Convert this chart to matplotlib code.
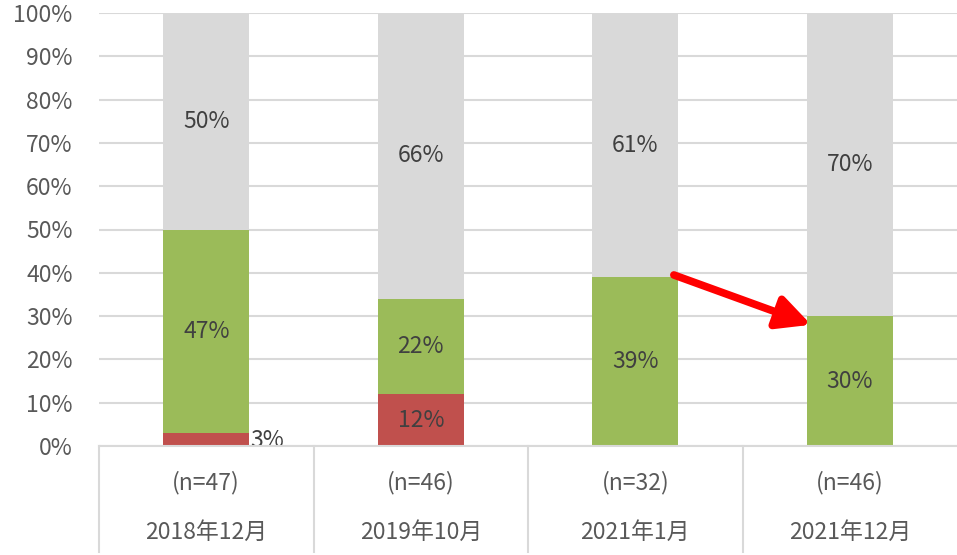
import matplotlib
matplotlib.use('Agg')
import matplotlib.pyplot as plt
import numpy as np

plt.rcParams['font.family'] = ['Noto Sans CJK JP', 'DejaVu Sans']

# data (percent)
periods = ['2018年12月', '2019年10月', '2021年1月', '2021年12月']
n_labels = ['(n=47)', '(n=46)', '(n=32)', '(n=46)']
red_vals = [3, 12, 0, 0]
green_vals = [47, 22, 39, 30]
gray_vals = [50, 66, 61, 70]

red_col = '#c0504d'
green_col = '#9bbb59'
gray_col = '#d9d9d9'
text_col = '#404040'
tick_col = '#595959'
fs = 16.5

W, H = 957, 555
fig = plt.figure(figsize=(W / 100, H / 100), dpi=100)
ax_left, ax_right, ax_top, ax_bottom = 99, 957, 13, 446
ax = fig.add_axes([ax_left / W, 1 - ax_bottom / H, (ax_right - ax_left) / W, (ax_bottom - ax_top) / H])

index = np.arange(len(periods))
width = 0.4
red = np.array(red_vals)
green = np.array(green_vals)
gray = np.array(gray_vals)

ax.bar(index, red, width, color=red_col, zorder=2)
ax.bar(index, green, width, bottom=red, color=green_col, zorder=2)
ax.bar(index, gray, width, bottom=red + green, color=gray_col, zorder=2)

# labels inside segments
for i in index:
    if red[i] >= 5:
        ax.text(i, red[i] / 2, '%d%%' % red[i], ha='center', va='center', fontsize=fs, color=text_col, zorder=3)
    elif red[i] > 0:
        ax.text(i + width / 2 + 0.005, red[i] / 2 - 0.3, '%d%%' % red[i], ha='left', va='center', fontsize=fs, color=text_col, zorder=3)
    ax.text(i, red[i] + green[i] / 2, '%d%%' % green[i], ha='center', va='center', fontsize=fs, color=text_col, zorder=3)
    ax.text(i, red[i] + green[i] + gray[i] / 2, '%d%%' % gray[i], ha='center', va='center', fontsize=fs, color=text_col, zorder=3)

ax.set_xlim(-0.5, len(periods) - 0.5)
ax.set_ylim(0, 100)
ax.set_yticks(np.arange(0, 101, 10))
ax.set_yticklabels(['%d%%' % v for v in range(0, 101, 10)], fontsize=fs, color=tick_col)
ax.set_xticks([])
ax.yaxis.grid(True, color=gray_col, linewidth=1.5, zorder=0)
ax.tick_params(axis='y', length=0, pad=19)
for s in ax.spines.values():
    s.set_visible(False)
ax.set_axisbelow(True)

# arrow from top of green bar (2021年1月) to top of green bar (2021年12月)
y0 = red[2] + green[2]
y1 = red[3] + green[3]
ax.annotate('', xy=(3 - width / 2 + 0.02, y1 - 2), xytext=(2 + width / 2 - 0.02, y0 + 0.5),
            arrowprops=dict(arrowstyle='-|>,head_length=1.0,head_width=0.5', color='#ff0000', lw=5.5,
                            mutation_scale=20, shrinkA=0, shrinkB=0), zorder=4)

# table-like category axis below the plot
line_col = '#d9d9d9'
fig.add_artist(plt.Line2D([ax_left / W, ax_right / W], [1 - ax_bottom / H] * 2, color=line_col, lw=1.5))
slot = (ax_right - ax_left) / len(periods)
for k in range(len(periods)):
    xpx = ax_left + k * slot
    fig.add_artist(plt.Line2D([xpx / W] * 2, [1 - ax_bottom / H, 1 - 552 / H], color=line_col, lw=1.5))
for i, (n, p) in enumerate(zip(n_labels, periods)):
    cx = (ax_left + (i + 0.5) * slot) / W
    fig.text(cx, 1 - 483 / H, n, ha='center', va='center', fontsize=fs, color=tick_col)
    fig.text(cx, 1 - 532 / H, p, ha='center', va='center', fontsize=fs, color=tick_col)

fig.savefig('out.png', dpi=100)
